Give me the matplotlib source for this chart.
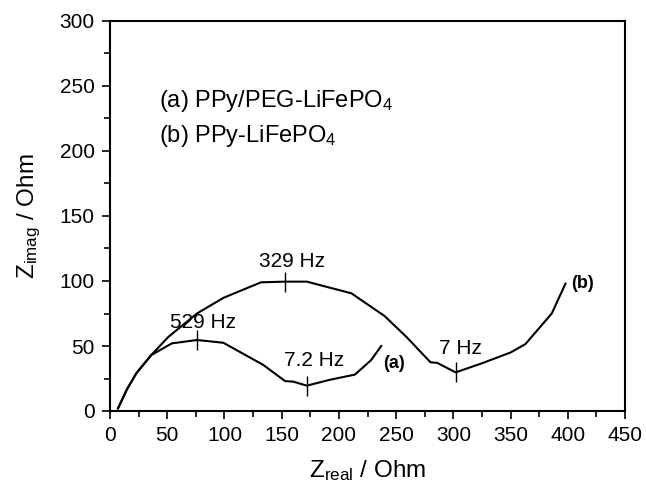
import matplotlib
matplotlib.use("Agg")
import matplotlib.pyplot as plt
from matplotlib.ticker import MultipleLocator

plt.rcParams['font.family'] = ['Liberation Sans', 'DejaVu Sans']
plt.rcParams['mathtext.fontset'] = 'custom'
plt.rcParams['mathtext.rm'] = 'Liberation Sans'
plt.rcParams['mathtext.it'] = 'Liberation Sans'

# Curve (a) PPy/PEG-LiFePO4
a_x = [7, 15, 23, 36, 54, 76, 99, 134, 153, 160, 172, 192, 214, 228, 237]
a_y = [2, 17, 29, 43, 52, 54.6, 52.5, 35.4, 23, 22.6, 19.5, 24, 28, 39, 50]
# Curve (b) PPy-LiFePO4
b_x = [7, 15, 23, 36, 51, 76, 99, 132, 153, 172, 211, 240, 259, 280, 286, 302, 325, 350, 363, 386, 398]
b_y = [2, 17, 29, 43, 57, 75, 87, 99, 99.5, 99.5, 90.5, 73, 57, 37.5, 37, 29.7, 36.7, 45, 51.5, 75, 98]

# Frequency markers
freq_x = [76, 153, 172, 302]
freq_y = [54.6, 99.5, 19.5, 29.7]
freq_labels = ["529 Hz", "329 Hz", "7.2 Hz", "7 Hz"]
freq_offsets = [(6, 18), (7, 20), (7, 25), (5, 24)]

legend_lines = ["(a) PPy/PEG-LiFePO$_4$", "(b) PPy-LiFePO$_4$"]

fig = plt.figure(figsize=(6.46, 4.88), dpi=100)
ax = fig.add_axes([110/646, 1-411/488, (625-110)/646, (411-21)/488])

ax.plot(a_x, a_y, color='black', lw=1.5)
ax.plot(b_x, b_y, color='black', lw=1.5)
ax.plot(freq_x, freq_y, ls='none', marker='|', markersize=14, mew=1.0, color='black')

for fx, fy, lab, off in zip(freq_x, freq_y, freq_labels, freq_offsets):
    ax.annotate(lab, (fx, fy), xytext=off, textcoords='offset pixels',
                ha='center', va='center', fontsize=15)

ax.annotate("(a)", (a_x[-1], a_y[-1]), xytext=(2, -17), textcoords='offset pixels',
            ha='left', va='center', fontsize=13, fontweight='bold')
ax.annotate("(b)", (b_x[-1], b_y[-1]), xytext=(6, 0), textcoords='offset pixels',
            ha='left', va='center', fontsize=13, fontweight='bold')

ax.text(0.095, 0.795, legend_lines[0], transform=ax.transAxes, fontsize=17, va='center', ha='left')
ax.text(0.095, 0.705, legend_lines[1], transform=ax.transAxes, fontsize=17, va='center', ha='left')

ax.set_xlim(0, 450)
ax.set_ylim(0, 300)
ax.xaxis.set_major_locator(MultipleLocator(50))
ax.xaxis.set_minor_locator(MultipleLocator(25))
ax.yaxis.set_major_locator(MultipleLocator(50))
ax.yaxis.set_minor_locator(MultipleLocator(25))
ax.tick_params(which='major', direction='out', length=6, width=1.2, labelsize=15, pad=5)
ax.tick_params(which='minor', direction='out', length=4, width=1.2)
for s in ax.spines.values():
    s.set_linewidth(1.5)

ax.set_xlabel("Z$_{\\mathrm{real}}$ / Ohm", fontsize=17.5, labelpad=9)
ax.set_ylabel("Z$_{\\mathrm{imag}}$ / Ohm", fontsize=17.5, labelpad=12)

fig.savefig("out.png", dpi=100)
